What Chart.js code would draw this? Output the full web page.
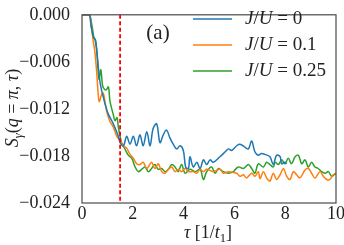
<!DOCTYPE html>
<html>
<head>
<meta charset="utf-8">
<script src="https://cdn.jsdelivr.net/npm/chart.js@4.4.1/dist/chart.umd.min.js"></script>
<style>
  html, body { margin: 0; padding: 0; background: #fff; }
</style>
</head>
<body>
<canvas id="chart" width="344" height="245"></canvas>
<script>
// J/U = 0
var tauBlue = [0,0.28,0.35,0.45,0.51,0.58,0.64,0.71,0.77,0.84,0.91,1.04,1.17,1.30,1.43,1.50,1.63,1.76,1.89,2.02,2.15,2.28,2.41,2.55,2.68,2.80,2.94,3.07,3.20,3.33,3.46,3.59,3.73,3.86,3.99,4.08,4.19,4.25,4.38,4.52,4.65,4.78,4.91,5.04,5.17,5.43,5.63,5.76,5.89,6.09,6.22,6.42,6.55,6.68,6.81,6.94,7.07,7.20,7.40,7.53,7.66,7.80,7.86,7.99,8.06];
var sBlue = [0,0,-0.0013,-0.0029,-0.0031,-0.0045,-0.0066,-0.0086,-0.0096,-0.0105,-0.0114,-0.0127,-0.0135,-0.0144,-0.0155,-0.0163,-0.0167,-0.0155,-0.0165,-0.0155,-0.0167,-0.0153,-0.0167,-0.0149,-0.0167,-0.0145,-0.0139,-0.0163,-0.0153,-0.0147,-0.0157,-0.0165,-0.0171,-0.0167,-0.0173,-0.0194,-0.0196,-0.0181,-0.0194,-0.0188,-0.0196,-0.0185,-0.0191,-0.0185,-0.0188,-0.0181,-0.0175,-0.0171,-0.0173,-0.0167,-0.0165,-0.0169,-0.0171,-0.0161,-0.0175,-0.0179,-0.0177,-0.0178,-0.0181,-0.0191,-0.0179,-0.0181,-0.0190,-0.0188,-0.0190];

// J/U = 0.1
var tauOrange = [0,0.28,0.35,0.44,0.51,0.58,0.64,0.68,0.77,0.84,0.91,0.97,1.10,1.23,1.37,1.50,1.63,1.76,1.89,2.02,2.15,2.28,2.41,2.55,2.74,2.87,3.00,3.14,3.27,3.40,3.53,3.66,3.79,3.92,4.06,4.19,4.38,4.52,4.65,4.78,4.91,5.17,5.43,5.56,5.76,6.09,6.22,6.35,6.48,6.68,6.81,6.94,7.01,7.14,7.27,7.40,7.53,7.66,7.80,7.93,8.06,8.19,8.32,8.45,8.58,8.78,8.91,9.04,9.17,9.37,9.50,9.63,9.76,9.89,10.0];
var sOrange = [0,0,-0.0011,-0.0033,-0.0048,-0.0074,-0.0102,-0.0111,-0.0102,-0.0100,-0.0112,-0.0123,-0.0136,-0.0143,-0.0155,-0.0160,-0.0167,-0.0170,-0.0178,-0.0183,-0.0190,-0.0191,-0.0188,-0.0196,-0.0188,-0.0196,-0.0190,-0.0200,-0.0202,-0.0197,-0.0194,-0.0200,-0.0197,-0.0200,-0.0196,-0.0200,-0.0200,-0.0202,-0.0197,-0.0200,-0.0197,-0.0200,-0.0197,-0.0202,-0.0200,-0.0202,-0.0206,-0.0204,-0.0208,-0.0202,-0.0206,-0.0200,-0.0209,-0.0200,-0.0208,-0.0212,-0.0202,-0.0210,-0.0204,-0.0196,-0.0206,-0.0210,-0.0200,-0.0204,-0.0208,-0.0198,-0.0196,-0.0202,-0.0208,-0.0200,-0.0206,-0.0210,-0.0210,-0.0204,-0.0202];

// J/U = 0.25
var tauGreen = [0,0.30,0.32,0.41,0.47,0.54,0.60,0.67,0.74,0.80,0.84,0.94,1.04,1.10,1.23,1.30,1.38,1.43,1.56,1.69,1.82,1.96,2.09,2.22,2.35,2.48,2.61,2.74,2.87,3.00,3.14,3.27,3.40,3.53,3.66,3.79,3.92,4.06,4.25,4.45,4.65,4.78,4.91,5.10,5.24,5.37,5.56,5.76,5.96,6.15,6.35,6.55,6.68,6.81,6.94,7.14,7.27,7.40,7.53,7.60,7.73,7.86,7.99,8.12,8.25,8.39,8.52,8.65,8.78,8.91,9.04,9.17,9.30,9.43,9.57,9.70,9.83,10.0];
var sGreen = [0,0,-0.0001,-0.0017,-0.0029,-0.0033,-0.0054,-0.0082,-0.0070,-0.0088,-0.0093,-0.0096,-0.0092,-0.0110,-0.0127,-0.0135,-0.0131,-0.0143,-0.0163,-0.0171,-0.0179,-0.0183,-0.0194,-0.0200,-0.0197,-0.0194,-0.0200,-0.0196,-0.0191,-0.0197,-0.0196,-0.0200,-0.0197,-0.0191,-0.0194,-0.0200,-0.0191,-0.0202,-0.0197,-0.0200,-0.0197,-0.0210,-0.0200,-0.0194,-0.0202,-0.0196,-0.0200,-0.0202,-0.0200,-0.0194,-0.0196,-0.0191,-0.0196,-0.0202,-0.0190,-0.0194,-0.0188,-0.0191,-0.0194,-0.0188,-0.0191,-0.0185,-0.0190,-0.0183,-0.0190,-0.0181,-0.0179,-0.0190,-0.0185,-0.0194,-0.0188,-0.0194,-0.0196,-0.0200,-0.0202,-0.0200,-0.0206,-0.0202];

var jValues = ["0", "0.1", "0.25"];
var colors = ["#1f77b4", "#ff7f0e", "#2ca02c"];
var xTicks = [0, 2, 4, 6, 8, 10];
var yTicks = [-0.024, -0.018, -0.012, -0.006, 0];
var tauMark = 1.5;

var serif = "'Liberation Serif', 'DejaVu Serif', serif";

function pts(xs, ys) {
  var out = [];
  for (var i = 0; i < xs.length; i++) out.push({ x: xs[i], y: ys[i] });
  return out;
}

function fontFor(style, size) {
  var sz = style.charAt(0) === "s" ? size * 0.7 : size;
  var it = style.indexOf("i") >= 0 ? "italic " : "";
  return it + sz + "px " + serif;
}

// draw text made of pieces: [text, style], style r / i / sr / si
function drawRich(ctx, parts, x, y, size, align) {
  var w = 0;
  parts.forEach(function (p) { ctx.font = fontFor(p[1], size); w += ctx.measureText(p[0]).width; });
  var cx = align === "center" ? x - w / 2 : x;
  parts.forEach(function (p) {
    ctx.font = fontFor(p[1], size);
    var dy = p[1].charAt(0) === "s" ? size * 0.3 : 0;
    ctx.fillText(p[0], cx, y + dy);
    cx += ctx.measureText(p[0]).width;
  });
}

var extras = {
  id: "extras",
  afterDatasetsDraw: function (chart) {
    var ctx = chart.ctx, a = chart.chartArea;
    var xs = chart.scales.x;
    ctx.save();
    // red dashed marker
    var mx = xs.getPixelForValue(tauMark);
    ctx.strokeStyle = "#ff0000";
    ctx.lineWidth = 1.8;
    ctx.setLineDash([4, 2.5]);
    ctx.beginPath();
    ctx.moveTo(mx, a.top);
    ctx.lineTo(mx, a.bottom);
    ctx.stroke();
    ctx.setLineDash([]);
    // frame
    ctx.strokeStyle = "#4a4a4a";
    ctx.lineWidth = 1.2;
    ctx.strokeRect(a.left, a.top, a.right - a.left, a.bottom - a.top);

    ctx.fillStyle = "#222";
    ctx.textBaseline = "middle";
    // panel label
    ctx.font = "21px " + serif;
    ctx.textAlign = "center";
    ctx.fillText("(a)", 158, 33);
    ctx.textAlign = "left";

    // legend
    for (var i = 0; i < jValues.length; i++) {
      var ly = 19 + i * 26;
      ctx.strokeStyle = colors[i];
      ctx.lineWidth = 1.5;
      ctx.beginPath();
      ctx.moveTo(193, ly);
      ctx.lineTo(232, ly);
      ctx.stroke();
      drawRich(ctx, [["J", "i"], ["/", "r"], ["U", "i"], [" = " + jValues[i], "r"]], 245, ly, 19, "left");
    }

    // x title
    drawRich(ctx, [["\u03c4", "i"], [" [1/", "r"], ["t", "i"], ["1", "sr"], ["]", "r"]], 208, 233, 18, "center");

    // y title
    ctx.translate(13, 108);
    ctx.rotate(-Math.PI / 2);
    drawRich(ctx, [["S", "i"], ["\u03b3", "si"], ["(", "r"], ["q", "i"], [" = ", "r"], ["\u03c0", "i"], [", ", "r"], ["\u03c4", "i"], [")", "r"]], 0, 0, 18, "center");
    ctx.restore();
  }
};

var ctx = document.getElementById("chart");
new Chart(ctx, {
  type: "line",
  data: {
    datasets: [
      { label: "J/U = 0", data: pts(tauBlue, sBlue), borderColor: colors[0] },
      { label: "J/U = 0.1", data: pts(tauOrange, sOrange), borderColor: colors[1] },
      { label: "J/U = 0.25", data: pts(tauGreen, sGreen), borderColor: colors[2] }
    ]
  },
  options: {
    responsive: false,
    animation: false,
    devicePixelRatio: 1,
    layout: { padding: { top: 6, right: 8, left: 0, bottom: 0 } },
    elements: {
      line: { borderWidth: 1.5, tension: 0.35, fill: false },
      point: { radius: 0 }
    },
    plugins: { legend: { display: false }, tooltip: { enabled: false } },
    scales: {
      x: {
        type: "linear",
        min: 0, max: 10,
        afterBuildTicks: function (s) { s.ticks = xTicks.map(function (v) { return { value: v }; }); },
        afterFit: function (s) { s.height = 42; },
        grid: { display: false },
        border: { display: false },
        ticks: { color: "#222", padding: -8, maxRotation: 0, font: { family: serif, size: 18 } }
      },
      y: {
        min: -0.024, max: 0,
        afterBuildTicks: function (s) { s.ticks = yTicks.map(function (v) { return { value: v }; }); },
        afterFit: function (s) { s.width = 82; },
        grid: { display: false },
        border: { display: false },
        ticks: {
          color: "#222", padding: 4,
          font: { family: serif, size: 18 },
          callback: function (v) { return (v < 0 ? "\u2212" : "") + Math.abs(v).toFixed(3); }
        }
      }
    }
  },
  plugins: [extras]
});
</script>
</body>
</html>
